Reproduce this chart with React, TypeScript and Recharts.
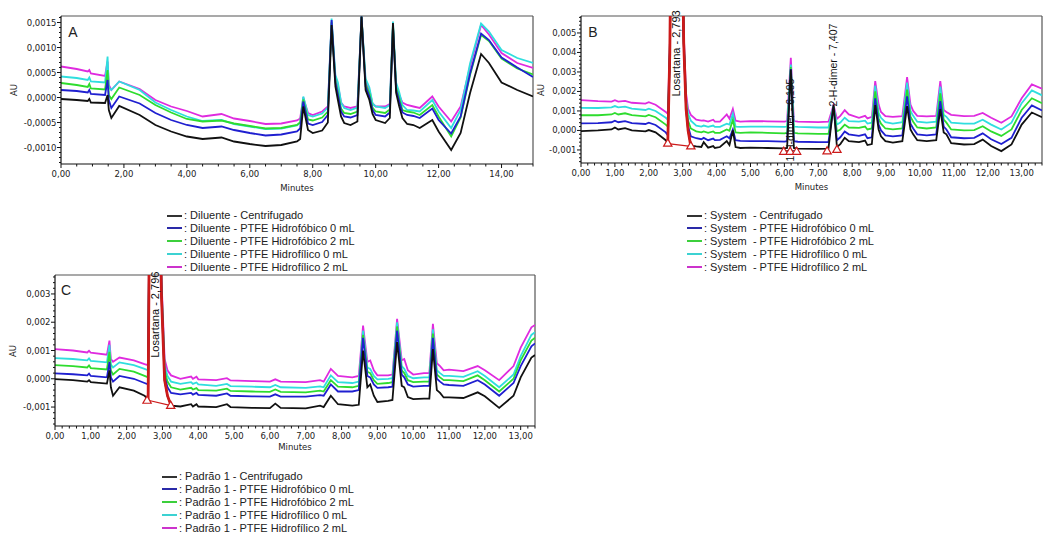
import React from "react";
import {
  ComposedChart,
  Line,
  Scatter,
  XAxis,
  YAxis,
  ZAxis,
  ReferenceLine,
  ReferenceDot,
} from "recharts";

// retention time (min) and absorbance (mAU)

// A: Diluente
const timeA = [0, 0.5, 0.85, 0.9, 0.95, 1.4, 1.48, 1.52, 1.6, 1.85, 2.5, 3.0, 3.5, 4.0, 4.5, 5.1, 5.5, 6.0, 6.5, 7.0, 7.5, 7.6, 7.7, 7.85, 8.0, 8.3, 8.48, 8.6, 8.72, 8.8, 8.9, 9.0, 9.2, 9.42, 9.55, 9.68, 9.8, 9.9, 10.0, 10.3, 10.45, 10.55, 10.65, 10.75, 10.85, 11.0, 11.2, 11.4, 11.8, 12.0, 12.4, 12.7, 13.0, 13.35, 13.6, 14.0, 14.5, 15.0];
const dilCentr = [-0.03, -0.05, -0.07, -0.03, -0.1, -0.11, 0.05, -0.25, -0.41, -0.17, -0.35, -0.55, -0.68, -0.78, -0.83, -0.8, -0.88, -0.93, -0.97, -0.95, -0.88, -0.83, -0.18, -0.65, -0.71, -0.66, -0.5, 1.45, 0.22, -0.05, -0.38, -0.51, -0.55, -0.48, 1.62, 0.15, -0.05, -0.33, -0.45, -0.51, -0.41, 1.49, 0.09, -0.18, -0.41, -0.53, -0.55, -0.61, -0.45, -0.68, -1.05, -0.71, 0.09, 0.87, 0.69, 0.3, 0.15, 0.02];
const dilHfob0 = [0.15, 0.13, 0.1, 0.15, 0.07, 0.05, 0.35, -0.05, -0.21, 0.02, -0.12, -0.31, -0.45, -0.55, -0.61, -0.58, -0.65, -0.71, -0.76, -0.74, -0.68, -0.62, -0.08, -0.52, -0.55, -0.49, -0.35, 1.55, 0.3, 0.05, -0.28, -0.38, -0.4, -0.35, 1.62, 0.22, 0.02, -0.25, -0.35, -0.38, -0.3, 1.42, 0.15, -0.08, -0.3, -0.35, -0.37, -0.41, -0.22, -0.45, -0.72, -0.38, 0.48, 1.28, 1.15, 0.8, 0.6, 0.41];
const dilHfob2 = [0.29, 0.25, 0.21, 0.27, 0.18, 0.16, 0.55, 0.05, -0.03, 0.2, 0.05, -0.15, -0.3, -0.43, -0.48, -0.46, -0.52, -0.57, -0.62, -0.61, -0.55, -0.5, -0.04, -0.44, -0.46, -0.4, -0.28, 1.5, 0.35, 0.1, -0.22, -0.31, -0.33, -0.28, 1.62, 0.27, 0.08, -0.2, -0.28, -0.31, -0.24, 1.45, 0.2, -0.02, -0.25, -0.28, -0.3, -0.35, -0.15, -0.38, -0.78, -0.4, 0.45, 1.25, 1.13, 0.78, 0.58, 0.46];
const dilHfil0 = [0.42, 0.39, 0.35, 0.4, 0.32, 0.3, 0.82, 0.2, 0.15, 0.32, 0.15, -0.1, -0.25, -0.38, -0.47, -0.45, -0.53, -0.58, -0.63, -0.62, -0.56, -0.5, 0.02, -0.35, -0.38, -0.32, -0.2, 1.58, 0.45, 0.3, -0.1, -0.21, -0.25, -0.2, 1.62, 0.38, 0.2, -0.12, -0.18, -0.21, -0.15, 1.52, 0.3, 0.1, -0.15, -0.25, -0.26, -0.28, -0.05, -0.28, -0.61, -0.25, 0.68, 1.48, 1.32, 0.95, 0.79, 0.69];
const dilHfil2 = [0.62, 0.57, 0.52, 0.55, 0.48, 0.43, 0.72, 0.25, 0.15, 0.32, 0.17, -0.05, -0.18, -0.27, -0.38, -0.33, -0.42, -0.47, -0.53, -0.52, -0.46, -0.42, 0.0, -0.31, -0.35, -0.28, -0.18, 1.52, 0.4, 0.25, -0.1, -0.18, -0.21, -0.18, 1.62, 0.3, 0.15, -0.12, -0.18, -0.18, -0.13, 1.42, 0.25, 0.05, -0.1, -0.15, -0.18, -0.21, 0.02, -0.18, -0.48, -0.18, 0.62, 1.45, 1.26, 0.89, 0.69, 0.59];

// B: System
const timeB = [0, 0.5, 0.9, 1.0, 1.1, 1.3, 1.5, 1.9, 2.0, 2.2, 2.5, 2.56, 2.62, 2.68, 2.95, 3.03, 3.1, 3.16, 3.24, 3.4, 3.55, 3.62, 3.75, 3.9, 3.95, 4.1, 4.3, 4.38, 4.48, 4.56, 4.7, 5.0, 5.5, 6.0, 6.08, 6.19, 6.28, 6.4, 7.0, 7.3, 7.45, 7.55, 7.65, 7.78, 7.9, 8.2, 8.38, 8.45, 8.58, 8.68, 8.78, 8.85, 8.98, 9.2, 9.48, 9.62, 9.72, 9.8, 9.92, 10.2, 10.48, 10.6, 10.7, 10.78, 10.92, 11.3, 11.6, 11.85, 12.1, 12.4, 12.7, 13.0, 13.3, 13.6];
const sysCentr = [-0.03, 0.0, 0.05, 0.15, 0.05, 0.12, 0.0, -0.05, 0.02, -0.1, -0.5, -0.65, 4.0, 14, 14, 4.5, 1.1, 0.0, -0.78, -0.82, -0.85, -0.6, -0.88, -0.8, -0.9, -0.85, -0.55, -0.75, 0.0, -0.85, -0.9, -0.88, -0.9, -0.92, -0.9, 3.13, -0.9, -0.93, -0.95, -0.93, 1.33, -0.85, -0.7, -0.38, -0.55, -0.6, -0.52, -0.75, -0.7, 1.3, 0.05, -0.3, -0.55, -0.62, -0.55, 1.25, 0.05, -0.2, -0.5, -0.55, -0.5, 1.1, -0.1, -0.2, -0.65, -0.72, -0.7, -0.47, -0.8, -1.06, -0.72, 0.3, 0.92, 0.68];
const sysHfob0 = [0.36, 0.38, 0.42, 0.5, 0.42, 0.48, 0.38, 0.33, 0.4, 0.28, -0.1, -0.25, 4.0, 14, 14, 4.5, 1.2, 0.2, -0.3, -0.4, -0.45, -0.38, -0.5, -0.42, -0.5, -0.48, -0.3, -0.4, 0.05, -0.5, -0.53, -0.55, -0.55, -0.57, -0.55, 3.15, -0.55, -0.58, -0.6, -0.6, 1.2, -0.5, -0.35, -0.05, -0.2, -0.28, -0.2, -0.4, -0.35, 1.65, 0.3, 0.0, -0.25, -0.3, -0.25, 1.75, 0.35, 0.1, -0.2, -0.25, -0.2, 1.5, 0.2, 0.05, -0.35, -0.4, -0.38, -0.15, -0.45, -0.7, -0.38, 0.65, 1.28, 1.02];
const sysHfob2 = [0.78, 0.78, 0.82, 0.9, 0.82, 0.88, 0.78, 0.72, 0.8, 0.68, 0.3, 0.2, 4.0, 14, 14, 4.6, 1.4, 0.5, 0.1, -0.05, -0.1, -0.05, -0.12, -0.05, -0.12, -0.12, 0.05, -0.02, 0.55, -0.1, -0.12, -0.1, -0.12, -0.15, -0.12, 3.25, -0.12, -0.15, -0.18, -0.18, 1.2, -0.05, 0.05, 0.3, 0.15, 0.13, 0.2, 0.05, 0.1, 2.0, 0.6, 0.35, 0.1, 0.05, 0.1, 2.1, 0.7, 0.45, 0.15, 0.1, 0.15, 1.9, 0.55, 0.4, 0.05, 0.0, 0.02, 0.22, -0.05, -0.28, 0.05, 1.05, 1.65, 1.4];
const sysHfil0 = [1.16, 1.15, 1.18, 1.25, 1.18, 1.22, 1.12, 1.05, 1.12, 1.0, 0.65, 0.55, 4.0, 14, 14, 4.8, 1.6, 0.85, 0.5, 0.25, 0.2, 0.25, 0.18, 0.25, 0.18, 0.18, 0.35, 0.3, 0.85, 0.2, 0.18, 0.2, 0.2, 0.18, 0.2, 3.38, 0.2, 0.18, 0.15, 0.15, 1.25, 0.3, 0.4, 0.65, 0.48, 0.45, 0.5, 0.35, 0.4, 2.3, 0.9, 0.65, 0.42, 0.35, 0.42, 2.45, 1.0, 0.75, 0.45, 0.4, 0.45, 2.25, 0.8, 0.7, 0.4, 0.35, 0.35, 0.55, 0.3, 0.05, 0.4, 1.4, 2.05, 1.8];
const sysHfil2 = [1.55, 1.5, 1.48, 1.55, 1.48, 1.52, 1.42, 1.38, 1.45, 1.32, 0.95, 0.85, 4.2, 14, 14, 5.0, 1.9, 1.1, 0.8, 0.55, 0.5, 0.52, 0.45, 0.55, 0.45, 0.45, 0.82, 0.6, 1.1, 0.5, 0.45, 0.48, 0.47, 0.45, 0.48, 3.73, 0.48, 0.45, 0.43, 0.45, 1.3, 0.6, 0.75, 1.04, 0.82, 0.65, 0.75, 0.62, 0.7, 2.53, 1.33, 0.95, 0.73, 0.7, 0.73, 2.73, 1.33, 1.0, 0.75, 0.72, 0.75, 2.53, 1.05, 0.95, 0.8, 0.73, 0.75, 0.9, 0.65, 0.39, 0.72, 1.65, 2.36, 2.14];

// B: integrated Losartana peak (red trace), baseline marks
const losTimeB = [2.56, 2.62, 2.68, 2.95, 3.03, 3.1, 3.16, 3.24];
const losValB = [-0.68, 4.0, 14, 14, 4.5, 1.1, 0.0, -0.82];
const markTimeB = [2.56, 3.24, 5.98, 6.17, 6.36, 7.26, 7.55];
const markValB = [-0.68, -0.82, -1.1, -1.1, -1.1, -1.08, -1.0];

// C: Padrão 1
const timeC = [0, 0.5, 0.9, 0.95, 1.0, 1.45, 1.52, 1.56, 1.62, 1.8, 2.2, 2.5, 2.6, 2.66, 2.72, 2.85, 2.97, 3.06, 3.14, 3.24, 3.5, 3.8, 3.85, 3.95, 4.0, 4.5, 4.8, 4.9, 5.5, 6.0, 6.15, 6.3, 7.0, 7.4, 7.5, 7.7, 7.9, 8.3, 8.48, 8.6, 8.72, 8.8, 8.9, 9.0, 9.3, 9.42, 9.55, 9.68, 9.75, 9.85, 10.0, 10.3, 10.45, 10.55, 10.66, 10.75, 10.85, 11.0, 11.4, 11.8, 12.0, 12.4, 12.8, 13.0, 13.3, 13.4];
const padCentr = [-0.01, -0.05, -0.1, -0.05, -0.12, -0.17, 0.3, -0.3, -0.6, -0.3, -0.42, -0.6, -0.72, 10, 14, 14, 3.0, -0.05, -0.6, -0.95, -0.98, -0.9, -0.98, -0.9, -0.98, -1.0, -0.9, -1.0, -1.03, -1.04, -0.88, -1.03, -1.05, -0.95, -1.0, -0.6, -0.9, -0.95, -0.92, 1.0, -0.3, -0.2, -0.6, -0.82, -0.78, -0.75, 1.3, -0.25, -0.3, -0.65, -0.72, -0.7, -0.7, 1.05, -0.4, -0.5, -0.66, -0.66, -0.68, -0.48, -0.62, -1.03, -0.6, 0.05, 0.75, 0.84];
const padHfob0 = [0.19, 0.16, 0.12, 0.18, 0.1, 0.05, 0.6, 0.05, -0.1, 0.1, 0.0, -0.15, -0.2, 10, 14, 14, 3.2, 0.1, -0.3, -0.5, -0.55, -0.5, -0.56, -0.5, -0.57, -0.6, -0.52, -0.6, -0.62, -0.63, -0.55, -0.63, -0.63, -0.58, -0.6, -0.2, -0.45, -0.45, -0.4, 1.45, 0.1, 0.05, -0.2, -0.32, -0.3, -0.28, 1.7, 0.15, 0.05, -0.2, -0.28, -0.25, -0.25, 1.45, 0.0, -0.1, -0.2, -0.22, -0.25, -0.05, -0.2, -0.6, -0.15, 0.45, 1.15, 1.25];
const padHfob2 = [0.48, 0.45, 0.4, 0.47, 0.38, 0.33, 0.95, 0.3, 0.15, 0.35, 0.25, 0.1, 0.05, 10, 14, 14, 3.3, 0.3, -0.1, -0.3, -0.38, -0.32, -0.38, -0.33, -0.4, -0.42, -0.35, -0.43, -0.45, -0.46, -0.38, -0.46, -0.48, -0.42, -0.45, -0.05, -0.28, -0.3, -0.25, 1.55, 0.25, 0.2, -0.05, -0.18, -0.15, -0.12, 1.85, 0.3, 0.2, -0.05, -0.12, -0.1, -0.1, 1.6, 0.15, 0.05, -0.05, -0.05, -0.08, 0.12, -0.05, -0.45, 0.0, 0.65, 1.35, 1.45];
const padHfil0 = [0.73, 0.7, 0.65, 0.72, 0.63, 0.58, 1.2, 0.5, 0.4, 0.58, 0.48, 0.35, 0.3, 10, 14, 14, 3.4, 0.5, 0.1, -0.1, -0.18, -0.12, -0.18, -0.13, -0.2, -0.25, -0.18, -0.26, -0.28, -0.3, -0.22, -0.3, -0.32, -0.27, -0.3, 0.12, -0.12, -0.15, -0.1, 1.7, 0.4, 0.35, 0.1, -0.02, 0.0, 0.02, 2.0, 0.45, 0.35, 0.1, 0.02, 0.05, 0.05, 1.75, 0.3, 0.2, 0.1, 0.1, 0.07, 0.27, 0.1, -0.3, 0.15, 0.8, 1.55, 1.65];
const padHfil2 = [1.05, 1.0, 0.93, 0.99, 0.92, 0.85, 1.35, 0.7, 0.6, 0.75, 0.65, 0.52, 0.48, 10, 14, 14, 3.6, 0.7, 0.3, 0.12, 0.0, 0.08, 0.0, 0.07, -0.02, -0.05, 0.02, -0.06, -0.08, -0.1, -0.02, -0.1, -0.12, -0.05, -0.1, 0.35, 0.1, 0.05, 0.1, 1.88, 0.6, 0.65, 0.3, 0.12, 0.12, 0.15, 2.12, 0.65, 0.7, 0.3, 0.15, 0.2, 0.2, 1.94, 0.55, 0.45, 0.3, 0.32, 0.27, 0.45, 0.3, -0.05, 0.45, 1.1, 1.82, 1.9];

const losTimeC = [2.6, 2.66, 2.72, 2.85, 2.97, 3.06, 3.14, 3.24];
const losValC = [-0.76, 10, 14, 14, 3.0, -0.05, -0.6, -0.95];
const markTimeC = [2.57, 3.23];
const markValC = [-0.78, -0.96];

// axis ticks
const xMajorA = [0, 2, 4, 6, 8, 10, 12, 14];
const xMajorBC = [0, 1, 2, 3, 4, 5, 6, 7, 8, 9, 10, 11, 12, 13];
const yMajorA = [-1, -0.5, 0, 0.5, 1, 1.5];
const yMajorB = [-1, 0, 1, 2, 3, 4, 5];
const yMajorC = [-1, 0, 1, 2, 3];

const sampleNames = [
  "Centrifugado",
  "PTFE Hidrofóbico 0 mL",
  "PTFE Hidrofóbico 2 mL",
  "PTFE Hidrofílico 0 mL",
  "PTFE Hidrofílico 2 mL",
];
const colors = ["#111111", "#1f1fd0", "#2edc2e", "#2fdede", "#df2bdf"];
const legendColors = ["#333333", "#2a2aa8", "#3ccf3c", "#3cd2d2", "#cc33cc"];
const keys = ["k", "b", "g", "c", "m"];
const RED = "#cc1a1a";
const TICK_FONT = "DejaVu Sans, sans-serif";

function rowsOf(time: number[], cols: number[][]) {
  return time.map((t, i) => {
    const r: any = { t };
    keys.forEach((k, j) => (r[k] = cols[j][i]));
    return r;
  });
}
function pairs(ts: number[], vs: number[]) {
  return ts.map((t, i) => ({ t, v: vs[i] }));
}
function steps(lo: number, hi: number, step: number) {
  const out: number[] = [];
  for (let i = Math.ceil(lo / step - 1e-9); i * step <= hi + 1e-9; i++) out.push(+(i * step).toFixed(4));
  return out;
}
const isMajor = (majors: number[], v: number) => majors.some((m) => Math.abs(m - v) < 1e-6);

const xTick = (majors: number[]) => (p: any) => {
  const v = p.payload.value;
  const major = isMajor(majors, v);
  return (
    <g>
      <line x1={p.x} x2={p.x} y1={p.y} y2={p.y + (major ? 4 : 2.5)} stroke="#111" />
      {major && (
        <text x={p.x} y={p.y + 13} textAnchor="middle" fontSize={8.5} fontFamily={TICK_FONT} fill="#222">
          {v.toFixed(2).replace(".", ",")}
        </text>
      )}
    </g>
  );
};

const yTick = (majors: number[], digits: number) => (p: any) => {
  const v = p.payload.value;
  const major = isMajor(majors, v);
  return (
    <g>
      <line x1={p.x - (major ? 4 : 2)} x2={p.x} y1={p.y} y2={p.y} stroke="#111" />
      {major && (
        <text x={p.x - 4.5} y={p.y + 3} textAnchor="end" fontSize={8.5} fontFamily={TICK_FONT} fill="#222">
          {(v / 1000).toFixed(digits).replace(".", ",")}
        </text>
      )}
    </g>
  );
};

const vLabel = (text: string, size: number) => (p: any) => (
  <text
    x={p.cx}
    y={p.cy}
    transform={`rotate(-90 ${p.cx} ${p.cy})`}
    fontSize={size}
    fontFamily="Liberation Sans, Arial, sans-serif"
    fill="#111"
    dominantBaseline="central"
  >
    {text}
  </text>
);

interface PanelProps {
  rows: any[];
  left: number;
  top: number;
  width: number;
  margin: { top: number; right: number; bottom: number; left: number };
  yWidth: number;
  xDomain: [number, number];
  yDomain: [number, number];
  xMajor: number[];
  xStep: number;
  yMajor: number[];
  yStep: number;
  yDigits: number;
  minutesOffset: number;
  extras?: React.ReactNode;
}

function Panel(props: PanelProps) {
  const { rows, xDomain, yDomain } = props;
  return (
    <div style={{ position: "absolute", left: props.left, top: props.top }}>
      <ComposedChart width={props.width} height={200} data={rows} margin={props.margin}>
        <XAxis
          dataKey="t"
          type="number"
          domain={xDomain}
          allowDataOverflow
          ticks={steps(xDomain[0], xDomain[1], props.xStep)}
          interval={0}
          tickSize={0}
          tickMargin={0}
          tickLine={false}
          tick={xTick(props.xMajor)}
          axisLine={{ stroke: "#111", strokeWidth: 1.2 }}
          height={30}
          label={{
            value: "Minutes",
            position: "insideBottom",
            offset: props.minutesOffset,
            fontSize: 8.5,
            fill: "#222",
            fontFamily: TICK_FONT,
          }}
        />
        <YAxis
          type="number"
          domain={yDomain}
          allowDataOverflow
          ticks={steps(yDomain[0], yDomain[1], props.yStep)}
          interval={0}
          tickSize={0}
          tickMargin={0}
          tickLine={false}
          tick={yTick(props.yMajor, props.yDigits)}
          axisLine={{ stroke: "#111", strokeWidth: 1.2 }}
          width={props.yWidth}
        />
        <ZAxis type="number" range={[30, 30]} />
        <ReferenceLine y={yDomain[1]} stroke="#555" strokeWidth={1.2} />
        <ReferenceLine x={xDomain[1]} stroke="#555" strokeWidth={1.2} />
        {[4, 3, 2, 1, 0].map((j) => (
          <Line
            key={keys[j]}
            type="linear"
            dataKey={keys[j]}
            stroke={colors[j]}
            strokeWidth={1.8}
            dot={false}
            activeDot={false}
            isAnimationActive={false}
          />
        ))}
        {props.extras}
      </ComposedChart>
    </div>
  );
}

function Legend({ left, top, prefix }: { left: number; top: number; prefix: string }) {
  return (
    <div style={{ position: "absolute", left, top }}>
      {sampleNames.map((n, i) => (
        <div
          key={n}
          style={{
            position: "absolute",
            left: 0,
            top: i * 12.9,
            height: 13,
            display: "flex",
            alignItems: "center",
            whiteSpace: "pre",
          }}
        >
          <div style={{ width: 15, height: 2, background: legendColors[i], marginRight: 2, flex: "none" }} />
          <span style={{ fontSize: 11, color: "#222", lineHeight: "13px" }}>{`: ${prefix} - ${n}`}</span>
        </div>
      ))}
    </div>
  );
}

function Tag({ x, y, text, size, rotate }: { x: number; y: number; text: string; size: number; rotate?: boolean }) {
  return (
    <div
      style={{
        position: "absolute",
        left: x,
        top: y,
        transform: `translate(-50%, -50%)${rotate ? " rotate(-90deg)" : ""}`,
        fontSize: size,
        fontFamily: rotate ? TICK_FONT : "Liberation Sans, Arial, sans-serif",
        color: "#222",
        lineHeight: 1,
        whiteSpace: "nowrap",
      }}
    >
      {text}
    </div>
  );
}

export default function App() {
  const rowsA = rowsOf(timeA, [dilCentr, dilHfob0, dilHfob2, dilHfil0, dilHfil2]);
  const rowsB = rowsOf(timeB, [sysCentr, sysHfob0, sysHfob2, sysHfil0, sysHfil2]);
  const rowsC = rowsOf(timeC, [padCentr, padHfob0, padHfob2, padHfil0, padHfil2]);
  const losB = pairs(losTimeB, losValB);
  const losC = pairs(losTimeC, losValC);
  const marksB = pairs(markTimeB, markValB);
  const marksC = pairs(markTimeC, markValC);

  const extrasB = [
    <ReferenceDot key="l1" x={6.17} y={-1.59} r={1} ifOverflow="visible" shape={vLabel("1-H-dímer - 6,195", 10.5)} />,
    <ReferenceDot key="l2" x={7.43} y={1.23} r={1} ifOverflow="visible" shape={vLabel("2-H-dímer - 7,407", 10.5)} />,
    <ReferenceDot key="l3" x={2.8} y={1.74} r={1} ifOverflow="hidden" shape={vLabel("Losartana - 2,793", 11)} />,
    <ReferenceLine key="bl" segment={[{ x: losTimeB[0], y: losValB[0] }, { x: losTimeB[7], y: losValB[7] }]} stroke={RED} strokeWidth={1.2} />,
    <Line key="red" data={losB} dataKey="v" type="linear" stroke={RED} strokeWidth={2.8} dot={false} activeDot={false} isAnimationActive={false} />,
    <Scatter key="tri" data={marksB} dataKey="v" shape="triangle" fill="#ffffff" stroke={RED} strokeWidth={1.2} isAnimationActive={false} />,
  ];
  const extrasC = [
    <ReferenceDot key="l3" x={2.8} y={0.74} r={1} ifOverflow="hidden" shape={vLabel("Losartana - 2,796", 11)} />,
    <ReferenceLine key="bl" segment={[{ x: losTimeC[0], y: losValC[0] }, { x: losTimeC[7], y: losValC[7] }]} stroke={RED} strokeWidth={1.2} />,
    <Line key="red" data={losC} dataKey="v" type="linear" stroke={RED} strokeWidth={2.8} dot={false} activeDot={false} isAnimationActive={false} />,
    <Scatter key="tri" data={marksC} dataKey="v" shape="triangle" fill="#ffffff" stroke={RED} strokeWidth={1.2} isAnimationActive={false} />,
  ];

  return (
    <div
      style={{
        position: "absolute",
        left: 0,
        top: 0,
        width: 1046,
        height: 533,
        background: "#fff",
        overflow: "hidden",
        fontFamily: "Liberation Sans, Arial, sans-serif",
      }}
    >
      <Panel
        rows={rowsA}
        left={0}
        top={0}
        width={545}
        margin={{ top: 16, right: 12, bottom: 6, left: 11 }}
        yWidth={50}
        xDomain={[0, 15]}
        yDomain={[-1.33, 1.63]}
        xMajor={xMajorA}
        xStep={0.5}
        yMajor={yMajorA}
        yStep={0.1}
        yDigits={4}
        minutesOffset={3}
      />
      <Panel
        rows={rowsB}
        left={530}
        top={0}
        width={516}
        margin={{ top: 16, right: 4, bottom: 7, left: 11 }}
        yWidth={40}
        xDomain={[0, 13.6]}
        yDomain={[-1.67, 5.87]}
        xMajor={xMajorBC}
        xStep={0.2}
        yMajor={yMajorB}
        yStep={0.2}
        yDigits={3}
        minutesOffset={3}
        extras={extrasB}
      />
      <Panel
        rows={rowsC}
        left={0}
        top={260}
        width={545}
        margin={{ top: 15, right: 10, bottom: 4, left: 5 }}
        yWidth={50}
        xDomain={[0, 13.4]}
        yDomain={[-1.67, 3.67]}
        xMajor={xMajorBC}
        xStep={0.2}
        yMajor={yMajorC}
        yStep={0.2}
        yDigits={3}
        minutesOffset={6}
        extras={extrasC}
      />

      <Tag x={73} y={32} text="A" size={14} />
      <Tag x={593} y={32} text="B" size={14} />
      <Tag x={66} y={290} text="C" size={14} />
      <Tag x={14} y={90} text="AU" size={8.5} rotate />
      <Tag x={541} y={90} text="AU" size={8.5} rotate />
      <Tag x={13} y={351} text="AU" size={8.5} rotate />

      <Legend left={167} top={209} prefix="Diluente" />
      <Legend left={687} top={209} prefix="System " />
      <Legend left={162} top={470} prefix="Padrão 1" />
    </div>
  );
}
